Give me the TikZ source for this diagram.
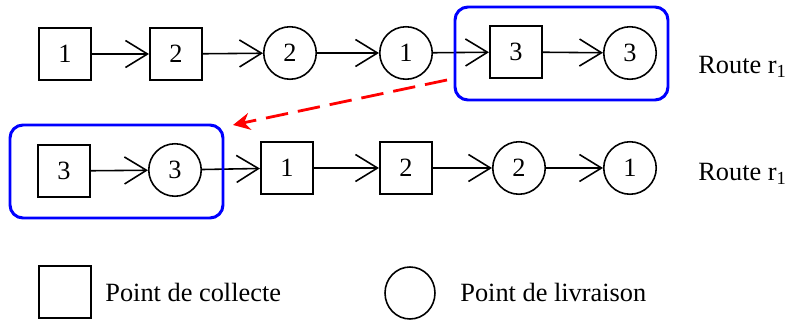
\documentclass[tikz,border=0pt]{standalone}
\usepackage{fontspec}
\setmainfont{Liberation Serif}
\usepackage{tikz}
\usetikzlibrary{arrows.meta}
\usetikzlibrary{shapes.geometric}
\tikzset{
  collecte/.style={draw, rectangle, line width=0.9pt, minimum size=1.05cm, inner sep=0pt},
  livraison/.style={draw, circle, line width=0.9pt, minimum size=1.05cm, inner sep=0pt},
  lien/.style={line width=0.9pt, -{Straight Barb[length=4.4mm, width=5.4mm]}},
  bloc/.style={draw=blue, line width=1.7pt, rounded corners=0.26cm},
}
\newcommand{\pickup}[4]{\node[collecte] (#1) at ( #2 , #3 ) {\raisebox{-2pt}{#4}};}
\newcommand{\drop}[4]{\node[livraison] (#1) at ( #2 , #3 ) {\raisebox{-2pt}{#4}};}

\begin{document}
\begin{tikzpicture}[x=0.02cm, y=-0.02cm, font=\fontsize{15}{18}\selectfont]
\useasboundingbox (0,0) rectangle (785,320);
% route 1
\pickup{ua}{65}{54}{1}
\pickup{ub}{176}{54}{2}
\drop{uc}{290}{53}{2}
\drop{ud}{406}{53}{1}
\pickup{ue}{516}{52}{3}
\drop{uf}{630}{53}{3}
\draw[lien] (ua) -- (ub);
\draw[lien] (ub) -- (uc);
\draw[lien] (uc) -- (ud);
\draw[lien] (ud) -- (ue);
\draw[lien] (ue) -- (uf);
\draw[bloc] (455,7) rectangle (668,100);
\node[anchor=base west, inner sep=0pt] (ru) at (698,74) {Route r\textsubscript{1}};
% route 2
\pickup{va}{64}{171}{3}
\drop{vb}{175}{170}{3}
\pickup{vc}{287}{168}{1}
\pickup{vd}{406}{168}{2}
\drop{ve}{519}{168}{2}
\drop{vf}{630}{168}{1}
\draw[lien] (va) -- (vb);
\draw[lien] (vb) -- (vc);
\draw[lien] (vc) -- (vd);
\draw[lien] (vd) -- (ve);
\draw[lien] (ve) -- (vf);
\draw[bloc] (10,125) rectangle (223,218);
\node[anchor=base west, inner sep=0pt] (rv) at (698,181) {Route r\textsubscript{1}};
% deplacement du bloc
\coordinate (from) at (447,80);
\coordinate (to) at (233,125);
\draw[red, line width=1.6pt, dash pattern=on 0.45cm off 0.2cm, -{Stealth[length=3.4mm, width=3.4mm]}] (from) -- (to);
% legende
\node[collecte] (lc) at (65,292) {};
\node[anchor=base west, inner sep=0pt] (tc) at (105,302) {Point de collecte};
\node[draw, ellipse, line width=0.9pt, inner sep=0pt, minimum width=1cm, minimum height=1.04cm] (ll) at (410,293) {};
\node[anchor=base west, inner sep=0pt] (tl) at (460,302) {Point de livraison};
\end{tikzpicture}
\end{document}
